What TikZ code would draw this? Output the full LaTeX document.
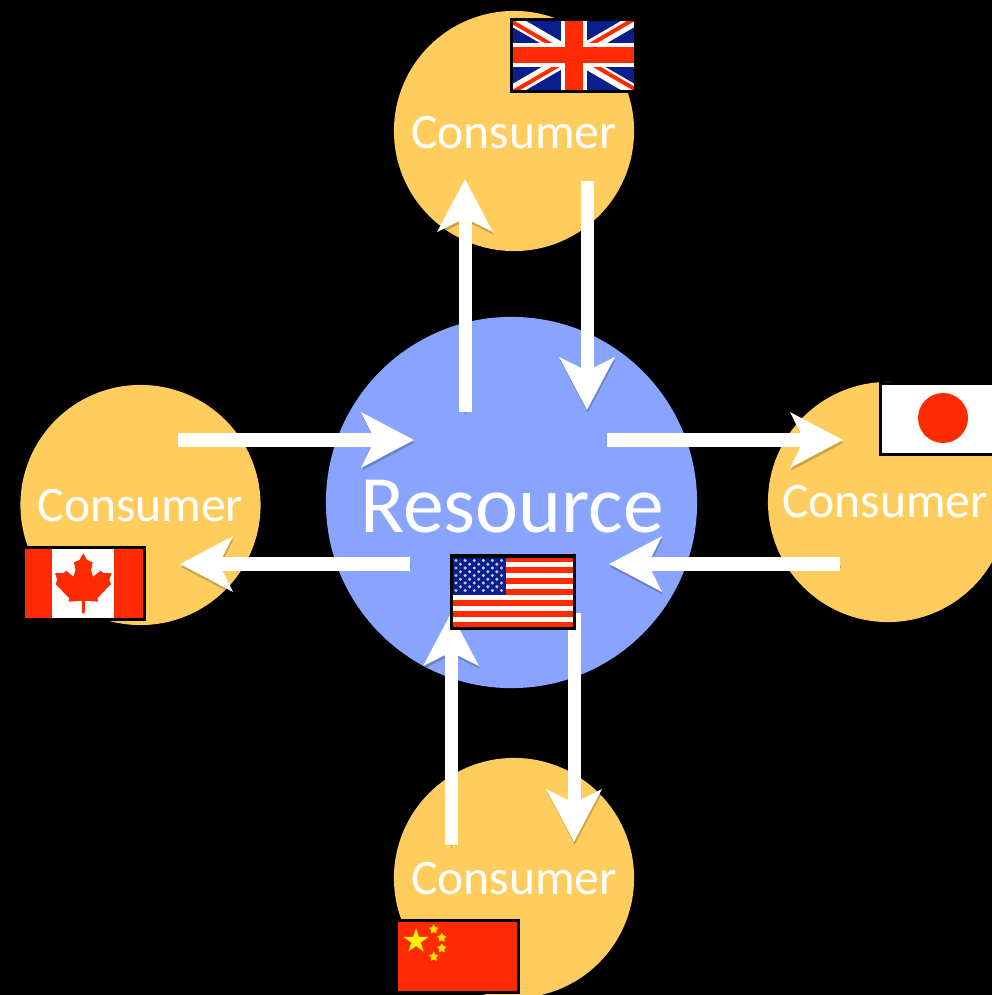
\documentclass[tikz,border=0pt]{standalone}
\usepackage{fontspec}
\setmainfont{Carlito}
\usepackage{xcolor}
\usetikzlibrary{arrows.meta}
\usetikzlibrary{shapes.geometric}

\definecolor{consumerorange}{HTML}{FFCC5E}
\definecolor{resourceblue}{HTML}{88A4FF}
\definecolor{flagred}{HTML}{FF2A00}
\definecolor{flagnavy}{HTML}{0B1F8C}

\begin{document}
\begin{tikzpicture}[
  x=0.01cm, y=-0.01cm,
  consumer/.style={circle, fill=consumerorange, minimum size=2.4cm, inner sep=0pt},
  resource/.style={circle, fill=resourceblue, minimum size=3.71cm, inner sep=0pt},
  consumerlabel/.style={text=white, font=\fontsize{14.1}{18}\selectfont, inner sep=0pt},
  resourcelabel/.style={text=white, font=\fontsize{23.2}{28}\selectfont, inner sep=0pt},
  flow/.style={
    -{Stealth[length=0.52cm, width=0.54cm, inset=0.13cm]},
    draw=white, line width=0.13cm,
    preaction={draw=black, draw opacity=.2, fill opacity=.2, transform canvas={shift={(0.2pt,-0.8pt)}}}
  },
  frame/.style={draw=black, line width=0.03cm},
  leaf/.style={fill=flagred},
  bigstar/.style={star, star points=5, star point ratio=2.6, fill=yellow, minimum size=0.26cm, inner sep=0pt},
  smallstar/.style={star, star points=5, star point ratio=1.8, fill=yellow!80!orange, minimum size=0.1cm, inner sep=0pt}
]

% Page
\clip (0,0) rectangle (992,995);
\fill[black] (0,0) rectangle (992,995);

% Circles
\node[consumer] (topconsumer) at (514,131) {};
\node[consumer] (leftconsumer) at (140.5,505) {};
\node[consumer] (rightconsumer) at (888,502) {};
\node[consumer] (bottomconsumer) at (514,878) {};
\node[resource] (resourcenode) at (511.5,502.5) {};

% Labels
\node[consumerlabel] (toplabel) at (514,133) {Consumer};
\node[consumerlabel] (leftlabel) at (140.5,506) {Consumer};
\node[consumerlabel] (rightlabel) at (885,502) {Consumer};
\node[consumerlabel] (bottomlabel) at (514,879) {Consumer};
\node[resourcelabel] (resourcelabeltext) at (512,507) {Resource};

% Arrow ends
\coordinate (topupstart) at (465,412);
\coordinate (topupend) at (465,179);
\coordinate (topdownstart) at (587,181);
\coordinate (topdownend) at (587,410);
\coordinate (leftinstart) at (178,440);
\coordinate (leftinend) at (414,440);
\coordinate (leftoutstart) at (410,564);
\coordinate (leftoutend) at (180,564);
\coordinate (rightoutstart) at (607,440);
\coordinate (rightoutend) at (843,440);
\coordinate (rightinstart) at (840,564);
\coordinate (rightinend) at (609,564);
\coordinate (bottomupstart) at (451,845);
\coordinate (bottomupend) at (451,613);
\coordinate (bottomdownstart) at (574,613);
\coordinate (bottomdownend) at (574,842);

% Arrows
\draw[flow] (topupstart) -- (topupend);
\draw[flow] (topdownstart) -- (topdownend);
\draw[flow] (leftinstart) -- (leftinend);
\draw[flow] (leftoutstart) -- (leftoutend);
\draw[flow] (rightoutstart) -- (rightoutend);
\draw[flow] (rightinstart) -- (rightinend);
\draw[flow] (bottomupstart) -- (bottomupend);
\draw[flow] (bottomdownstart) -- (bottomdownend);

% UK flag
\begin{scope}
  \clip (511.5,19.5) rectangle (635.5,91.5);
  \fill[flagnavy] (511.5,19.5) rectangle (635.5,91.5);
  \draw[white, line width=0.12cm] (511.5,19.5) -- (635.5,91.5);
  \draw[white, line width=0.12cm] (511.5,91.5) -- (635.5,19.5);
  \draw[flagred, line width=0.04cm] (511.5,21.5) -- (570,55.5);
  \draw[flagred, line width=0.04cm] (635.5,89.5) -- (577,55.5);
  \draw[flagred, line width=0.04cm] (513.5,91.5) -- (572,57.5);
  \draw[flagred, line width=0.04cm] (633.5,19.5) -- (575,53.5);
  \fill[white] (561,19.5) rectangle (587,91.5);
  \fill[white] (511.5,43) rectangle (635.5,67);
  \fill[flagred] (565,19.5) rectangle (583,91.5);
  \fill[flagred] (511.5,47) rectangle (635.5,63);
\end{scope}
\draw[frame] (511.5,19.5) rectangle (635.5,91.5);

% Japan flag
\fill[white] (880.5,383.5) rectangle (1000,454.5);
\fill[flagred] (943,418) circle (25);
\draw[frame] (880.5,383.5) rectangle (1000,454.5);

% Canada flag
\fill[flagred] (23.5,547.5) rectangle (144.5,619.5);
\fill[white] (52,547.5) rectangle (114,619.5);
\fill[leaf] (83.3,553.3) -- (87,560) -- (92.7,562.3) -- (91,570) -- (93,576.7) -- (100.7,570.7)
  -- (103,573) -- (111.7,573.3) -- (109.3,580) -- (111,584) -- (97.3,598.3) -- (98.3,601.7) -- (85,600.7)
  -- (84.7,613.3) -- (82,613.3) -- (81.7,600.7) -- (68.3,601.7) -- (69.3,598.3)
  -- (55.5,584) -- (57.3,580) -- (55,573.3) -- (63.5,573) -- (66,570.7) -- (73.5,576.7) -- (75.5,570)
  -- (74,562.3) -- (79.5,560) -- cycle;
\draw[frame] (23.5,547.5) rectangle (144.5,619.5);

% China flag
\fill[flagred] (396,920.5) rectangle (518.5,992.5);
\node[bigstar] (chinabig) at (416,941) {};
\node[smallstar] (chinaone) at (433.7,929.3) {};
\node[smallstar] (chinatwo) at (441.7,937.7) {};
\node[smallstar] (chinathree) at (441.7,948.3) {};
\node[smallstar] (chinafour) at (433.7,956.7) {};
\draw[frame] (396,920.5) rectangle (518.5,992.5);

% US flag
\fill[white] (451,556) rectangle (574.5,628);
\foreach \i in {0,2,...,12}
  \fill[flagred] (451,556+5.54*\i) rectangle (574.5,556+5.54*\i+5.54);
\fill[flagnavy] (451,556) rectangle (506,594.5);
\foreach \j in {0,2,...,8} {
  \foreach \i in {0,...,5}
    \fill[white!75!flagnavy] (456+9.1*\i,560.5+3.75*\j) circle (1.7);
}
\foreach \j in {1,3,...,7} {
  \foreach \i in {0,...,4}
    \fill[white!75!flagnavy] (460.5+9.1*\i,560.5+3.75*\j) circle (1.7);
}
\draw[frame] (451,556) rectangle (574.5,628);

\end{tikzpicture}
\end{document}
